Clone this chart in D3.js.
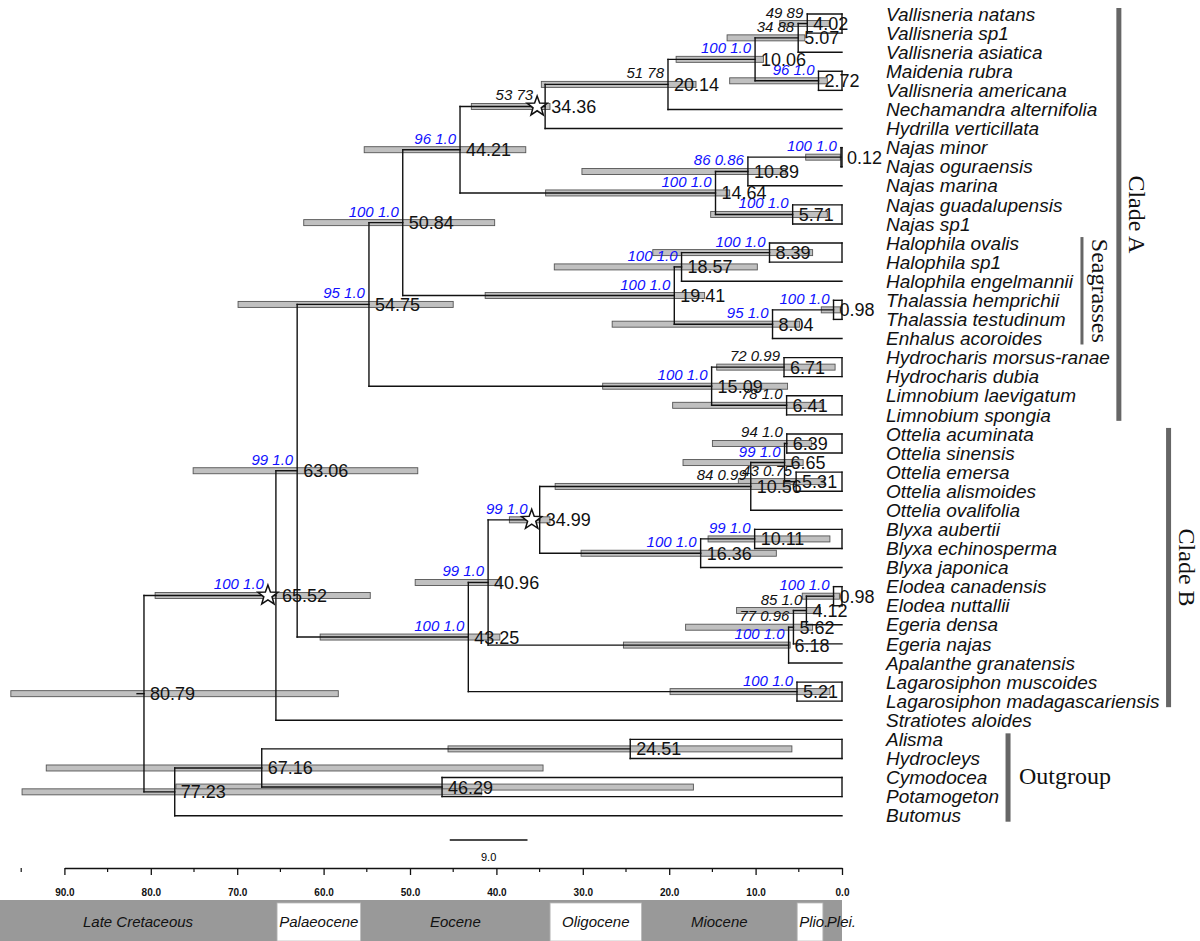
<!DOCTYPE html>
<html lang="en">
<head>
<meta charset="utf-8" />
<title>Hydrocharitaceae chronogram</title>
<script src="https://cdn.jsdelivr.net/npm/d3@7"></script>
<style>
  body { margin: 0; background: #fff; }
  svg { display: block; }
</style>
</head>
<body>
<svg id="tree" width="1200" height="941"></svg>
<script>
// tips, top to bottom
const tipNames = [
  "Vallisneria natans", "Vallisneria sp1", "Vallisneria asiatica", "Maidenia rubra",
  "Vallisneria americana", "Nechamandra alternifolia", "Hydrilla verticillata",
  "Najas minor", "Najas oguraensis", "Najas marina", "Najas guadalupensis", "Najas sp1",
  "Halophila ovalis", "Halophila sp1", "Halophila engelmannii", "Thalassia hemprichii",
  "Thalassia testudinum", "Enhalus acoroides", "Hydrocharis morsus-ranae", "Hydrocharis dubia",
  "Limnobium laevigatum", "Limnobium spongia", "Ottelia acuminata", "Ottelia sinensis",
  "Ottelia emersa", "Ottelia alismoides", "Ottelia ovalifolia", "Blyxa aubertii",
  "Blyxa echinosperma", "Blyxa japonica", "Elodea canadensis", "Elodea nuttallii",
  "Egeria densa", "Egeria najas", "Apalanthe granatensis", "Lagarosiphon muscoides",
  "Lagarosiphon madagascariensis", "Stratiotes aloides", "Alisma", "Hydrocleys",
  "Cymodocea", "Potamogeton", "Butomus"
];

// internal nodes: [id, child 1, child 2, age (Ma), 95% HPD old, 95% HPD young, support, blue, star]
// a child is a tip index (number) or a node id (string)
const nodes = [
  ["a", 0, 1, 4.02, 7.2, 1.4, "49 89", 0, 0],
  ["b", "a", 2, 5.07, 13.3, 4.3, "34 88", 0, 0],
  ["c", 3, 4, 2.72, 13.0, 1.7, "96 1.0", 1, 0],
  ["d", "b", "c", 10.06, 19.2, 9.1, "100 1.0", 1, 0],
  ["e", "d", 5, 20.14, 34.8, 16.9, "51 78", 0, 0],
  ["f", "e", 6, 34.36, 42.9, 33.8, "53 73", 0, 1],
  ["g", 7, 8, 0.12, 4.2, 0.2, "100 1.0", 1, 0],
  ["h", "g", 9, 10.89, 30.1, 6.5, "86 0.86", 1, 0],
  ["i", 10, 11, 5.71, 15.2, 1.7, "100 1.0", 1, 0],
  ["j", "h", "i", 14.64, 34.3, 13.0, "100 1.0", 1, 0],
  ["k", "f", "j", 44.21, 55.3, 36.6, "96 1.0", 1, 0],
  ["l", 12, 13, 8.39, 21.9, 3.4, "100 1.0", 1, 0],
  ["m", "l", 14, 18.57, 33.3, 9.8, "100 1.0", 1, 0],
  ["n", 15, 16, 0.98, 2.4, 0.2, "100 1.0", 1, 0],
  ["o", "n", 17, 8.04, 26.6, 4.9, "95 1.0", 1, 0],
  ["p", "m", "o", 19.41, 41.3, 15.9, "100 1.0", 1, 0],
  ["q", "k", "p", 50.84, 62.3, 40.2, "100 1.0", 1, 0],
  ["r", 18, 19, 6.71, 14.5, 0.8, "72 0.99", 0, 0],
  ["s", 20, 21, 6.41, 19.6, 2.3, "78 1.0", 0, 0],
  ["t", "r", "s", 15.09, 27.7, 6.3, "100 1.0", 1, 0],
  ["u", "q", "t", 54.75, 69.9, 45.0, "95 1.0", 1, 0],
  ["v", 22, 23, 6.39, 15.0, 3.5, "94 1.0", 0, 0],
  ["w", 24, 25, 5.31, 12.0, 2.0, "43 0.75", 0, 0],
  ["x", "v", "w", 6.65, 18.4, 4.5, "99 1.0", 1, 0],
  ["y", "x", 26, 10.56, 33.2, 6.0, "84 0.99", 0, 0],
  ["z", 27, 28, 10.11, 15.5, 1.4, "99 1.0", 1, 0],
  ["aa", "z", 29, 16.36, 30.2, 7.6, "100 1.0", 1, 0],
  ["ab", "y", "aa", 34.99, 38.5, 33.8, "99 1.0", 1, 1],
  ["ac", 30, 31, 0.98, 4.6, 0.3, "100 1.0", 1, 0],
  ["ad", "ac", 32, 4.12, 12.2, 2.5, "85 1.0", 0, 0],
  ["ae", "ad", 33, 5.62, 18.1, 3.4, "77 0.96", 0, 0],
  ["af", "ae", 34, 6.18, 25.3, 6.0, "100 1.0", 1, 0],
  ["ag", "ab", "af", 40.96, 49.4, 39.6, "99 1.0", 1, 0],
  ["ah", 35, 36, 5.21, 19.9, 1.4, "100 1.0", 1, 0],
  ["ai", "ag", "ah", 43.25, 60.4, 39.6, "100 1.0", 1, 0],
  ["aj", "u", "ai", 63.06, 75.1, 49.1, "99 1.0", 1, 0],
  ["ak", "aj", 37, 65.52, 79.5, 54.6, "100 1.0", 1, 1],
  ["al", 38, 39, 24.51, 45.6, 5.8, "", 0, 0],
  ["am", 40, 41, 46.29, 77.1, 17.2, "", 0, 0],
  ["an", "al", "am", 67.16, 92.1, 34.6, "", 0, 0],
  ["ao", "an", 42, 77.23, 94.9, 41.7, "", 0, 0],
  ["root", "ak", "ao", 80.79, 96.2, 58.3, "", 0, 0]
];

// clade brackets: [label, first tip, last tip]
const clades = [
  ["Clade A", 0, 21],
  ["Seagrasses", 12, 17],
  ["Clade B", 22, 36],
  ["Outgroup", 38, 42]
];

// geological epochs: [name, start Ma, end Ma]
const epochs = [
  ["Late Cretaceous", 100.5, 65.5],
  ["Palaeocene", 65.5, 55.6],
  ["Eocene", 55.6, 33.9],
  ["Oligocene", 33.9, 23.1],
  ["Miocene", 23.1, 5.3],
  ["Plio.", 5.3, 2.1],
  ["Plei.", 2.1, 0]
];

const majorTicks = [90, 80, 70, 60, 50, 40, 30, 20, 10, 0];
const minorTicks = [95, 85, 75, 65, 55, 45, 35, 25, 15, 5];
const scaleBar = { start: 45.4, length: 9.0 };

const svg = d3.select("#tree")
  .attr("font-family", "'Liberation Sans', Arial, sans-serif");

const x = d3.scaleLinear().domain([0, 90]).range([842, 64.4]);
const y = d3.scaleLinear().domain([0, tipNames.length - 1]).range([14, 815.7]);

// build node lookup
const byId = new Map();
nodes.forEach(n => byId.set(n[0], {
  id: n[0], kids: [n[1], n[2]], age: n[3], hpd: [n[4], n[5]],
  support: n[6], blue: n[7], star: n[8]
}));

function posY(c) {
  if (typeof c === "number") return y(c);
  const n = byId.get(c);
  if (n.y == null) n.y = (posY(n.kids[0]) + posY(n.kids[1])) / 2;
  return n.y;
}
function posX(c) {
  return typeof c === "number" ? x(0) : x(byId.get(c).age);
}
const all = Array.from(byId.values());
all.forEach(n => { n.x = x(n.age); posY(n.id); });

const gBars = svg.append("g");
const gTree = svg.append("g");
const gLabels = svg.append("g");

// 95% HPD bars
gBars.selectAll("rect")
  .data(all)
  .enter()
  .append("rect")
  .attr("x", d => x(d.hpd[0]))
  .attr("y", d => d.y - 3)
  .attr("width", d => x(d.hpd[1]) - x(d.hpd[0]))
  .attr("height", 6)
  .attr("fill", "#c0c0c0")
  .attr("stroke", "#555")
  .attr("stroke-width", 0.9);

// branches
const branchLines = [];
all.forEach(n => {
  const y1 = posY(n.kids[0]), y2 = posY(n.kids[1]);
  branchLines.push([n.x, y1, n.x, y2]);
  n.kids.forEach(k => branchLines.push([n.x, posY(k), posX(k), posY(k)]));
  // cherries are closed off at the tips
  if (typeof n.kids[0] === "number" && typeof n.kids[1] === "number") {
    branchLines.push([x(0), y1, x(0), y2]);
  }
});
const root = byId.get("root");
branchLines.push([x(root.age + 0.8), root.y, root.x, root.y]);

gTree.selectAll("line")
  .data(branchLines)
  .enter()
  .append("line")
  .attr("x1", d => d[0]).attr("y1", d => d[1])
  .attr("x2", d => d[2]).attr("y2", d => d[3])
  .attr("stroke", "#111")
  .attr("stroke-width", 1.4)
  .attr("stroke-linecap", "square");

// stars for calibration points
function starPath(r1, r2) {
  const pts = [];
  for (let i = 0; i < 10; i++) {
    const r = i % 2 ? r2 : r1;
    const a = -Math.PI / 2 + i * Math.PI / 5;
    pts.push([r * Math.cos(a), r * Math.sin(a)]);
  }
  return "M" + pts.map(p => p.join(",")).join("L") + "Z";
}
gTree.selectAll(".star")
  .data(all.filter(d => d.star))
  .enter()
  .append("path")
  .attr("class", "star")
  .attr("d", starPath(10.5, 4.3))
  .attr("transform", d => `translate(${d.x - 8}, ${d.y})`)
  .attr("fill", "#fff")
  .attr("stroke", "#111")
  .attr("stroke-width", 1.5);

// support values
gLabels.selectAll(".support")
  .data(all.filter(d => d.support))
  .enter()
  .append("text")
  .attr("class", "support")
  .attr("x", d => d.x - (d.star ? 12 : 4))
  .attr("y", d => d.y - 6)
  .attr("text-anchor", "end")
  .attr("font-size", "15px")
  .attr("font-style", "italic")
  .attr("fill", d => d.blue ? "#1010ff" : "#111")
  .text(d => d.support);

// node ages
gLabels.selectAll(".age")
  .data(all)
  .enter()
  .append("text")
  .attr("class", "age")
  .attr("x", d => d.x + 6)
  .attr("y", d => d.y + 6.5)
  .attr("font-size", "18px")
  .attr("fill", "#111")
  .text(d => d.age.toFixed(2));

// tip labels
const tipText = gLabels.selectAll(".tip")
  .data(tipNames)
  .enter()
  .append("text")
  .attr("class", "tip")
  .attr("x", 886)
  .attr("y", (d, i) => y(i))
  .attr("dy", "0.35em")
  .attr("font-size", "19px")
  .attr("font-style", "italic")
  .attr("fill", "#111")
  .text(d => d);
const tipEnd = tipText.nodes().map(t => 886 + t.getComputedTextLength());

// clade brackets
clades.forEach((c, ci) => {
  const nested = clades.some((o, oi) => oi !== ci && o[1] <= c[1] && o[2] >= c[2]);
  const bx = d3.max(tipEnd.slice(c[1], c[2] + 1)) + 9;
  const y0 = y(c[1]) - 6, y1 = y(c[2]) + 6;
  const w = nested ? 3 : 5;
  svg.append("rect")
    .attr("x", bx - w / 2).attr("y", y0)
    .attr("width", w).attr("height", y1 - y0)
    .attr("fill", "#666");
  const t = svg.append("text")
    .attr("font-family", "'Liberation Serif', 'Times New Roman', serif")
    .attr("font-size", "24px")
    .attr("fill", "#111")
    .text(c[0]);
  if (c[0] === "Outgroup") {
    t.attr("x", bx + 11).attr("y", (y0 + y1) / 2 + 6);
  } else {
    t.attr("text-anchor", "middle")
      .attr("transform", `translate(${bx + 10}, ${(y0 + y1) / 2}) rotate(90)`);
  }
});

// scale bar
svg.append("line")
  .attr("x1", x(scaleBar.start)).attr("x2", x(scaleBar.start - scaleBar.length))
  .attr("y1", 840).attr("y2", 840)
  .attr("stroke", "#111").attr("stroke-width", 1.3);
svg.append("text")
  .attr("x", (x(scaleBar.start) + x(scaleBar.start - scaleBar.length)) / 2)
  .attr("y", 861)
  .attr("text-anchor", "middle")
  .attr("font-size", "11px")
  .text(scaleBar.length.toFixed(1));

// time axis
const axisG = svg.append("g")
  .attr("transform", "translate(0, 868)")
  .call(d3.axisBottom(x)
    .tickValues(majorTicks)
    .tickSize(7)
    .tickSizeOuter(0)
    .tickPadding(14)
    .tickFormat(d3.format(".1f")));
axisG.select(".domain").attr("stroke", "#111").attr("stroke-width", 1.3);
axisG.selectAll(".tick line").attr("stroke", "#111").attr("stroke-width", 1.3);
axisG.selectAll(".tick text")
  .attr("font-family", "'Liberation Sans', Arial, sans-serif")
  .attr("font-size", "10px")
  .attr("font-weight", "bold")
  .attr("fill", "#111");
axisG.selectAll(".minor")
  .data(minorTicks)
  .enter()
  .append("line")
  .attr("class", "minor")
  .attr("x1", d => x(d)).attr("x2", d => x(d))
  .attr("y1", 0).attr("y2", 4)
  .attr("stroke", "#111").attr("stroke-width", 1.2);

// epoch band
const band = svg.append("g");
band.append("rect")
  .attr("x", 0).attr("y", 900)
  .attr("width", x(0)).attr("height", 41)
  .attr("fill", "#999");
epochs.forEach((e, i) => {
  const ex0 = Math.max(0, x(e[1])), ex1 = x(e[2]);
  if (i % 2 === 1) {
    band.append("rect")
      .attr("x", ex0 + 1).attr("y", 903)
      .attr("width", ex1 - ex0 - 2).attr("height", 38)
      .attr("fill", "#fff")
      .attr("stroke", "#bbb").attr("stroke-width", 0.8);
  }
  const t = band.append("text")
    .attr("x", (ex0 + ex1) / 2)
    .attr("y", 927)
    .attr("text-anchor", "middle")
    .attr("font-size", "15px")
    .attr("font-style", "italic")
    .attr("fill", "#111")
    .text(e[0]);
  if (t.node().getComputedTextLength() > ex1 - ex0 - 6) {
    t.attr("x", ex0 + 3).attr("text-anchor", "start");
  }
});
</script>
</body>
</html>
